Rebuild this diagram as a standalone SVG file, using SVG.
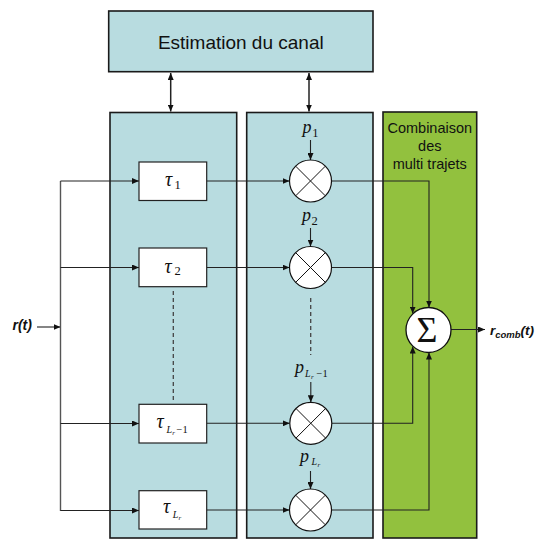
<svg xmlns="http://www.w3.org/2000/svg" width="537" height="539" viewBox="0 0 537 539">
<defs>
<marker id="ah" markerUnits="userSpaceOnUse" markerWidth="7" markerHeight="6" refX="7" refY="3" orient="auto-start-reverse">
<path d="M0,0 L7,3 L0,6 z" fill="#111"/>
</marker>
<g id="xmul">
<circle cx="0" cy="0" r="21" fill="#fff" stroke="#111" stroke-width="1.2"/>
<path d="M-14.8,-14.8 L14.8,14.8 M14.8,-14.8 L-14.8,14.8" stroke="#111" stroke-width="1"/>
</g>
</defs>
<style>
.panel{fill:#B8DCE0;stroke:#1a1a1a;stroke-width:1.6}
.green{fill:#92C13E;stroke:#1a1a1a;stroke-width:1.6}
.box{fill:#fff;stroke:#222;stroke-width:1.2}
.ln{fill:none;stroke:#222;stroke-width:1.1}
.ar{marker-end:url(#ah)}
.dash{fill:none;stroke:#444;stroke-width:1.3;stroke-dasharray:4,3}
.sans{font-family:"Liberation Sans",Arial,sans-serif;fill:#111}
.sym{font-family:"Liberation Serif","Times New Roman",serif;font-style:italic;fill:#111}
.up{font-style:normal}
</style>
<g id="estimation">
<rect x="108.7" y="11" width="264.3" height="60.7" class="panel"/>
<text x="240.8" y="49" class="sans" font-size="19" text-anchor="middle">Estimation du canal</text>
</g>
<g id="panel-delays"><rect x="110" y="112.5" width="126.7" height="425.5" class="panel"/></g>
<g id="panel-weights"><rect x="246.7" y="112.5" width="126.3" height="425.5" class="panel"/></g>
<g id="panel-combine">
<rect x="383" y="112" width="93.7" height="426" class="green"/>
<text class="sans" font-size="14.5" text-anchor="middle"><tspan x="429.8" y="133">Combinaison</tspan><tspan x="429.8" y="151">des</tspan><tspan x="429.8" y="168.5">multi trajets</tspan></text>
</g>
<g id="connectors">
<line x1="170.7" y1="73" x2="170.7" y2="111.5" class="ln" style="marker-start:url(#ah);marker-end:url(#ah);stroke-width:1.5"/>
<line x1="309" y1="73" x2="309" y2="111.5" class="ln" style="marker-start:url(#ah);marker-end:url(#ah);stroke-width:1.5"/>
<line x1="37" y1="327" x2="60.5" y2="327" class="ln ar"/>
<line x1="60.5" y1="181" x2="60.5" y2="511" class="ln" style="stroke:#555;stroke-width:1.4"/>
<line x1="60.5" y1="181" x2="139" y2="181" class="ln ar"/>
<line x1="60.5" y1="267.5" x2="139" y2="267.5" class="ln ar"/>
<line x1="60.5" y1="423.5" x2="139" y2="423.5" class="ln ar"/>
<line x1="60.5" y1="510.5" x2="139" y2="510.5" class="ln ar"/>
<line x1="206.7" y1="181" x2="289.5" y2="181" class="ln ar"/>
<line x1="206.7" y1="267.5" x2="289.5" y2="267.5" class="ln ar"/>
<line x1="206.7" y1="423.3" x2="289.8" y2="423.3" class="ln ar"/>
<line x1="206.7" y1="510" x2="289.5" y2="510" class="ln ar"/>
<line x1="310.5" y1="140" x2="310.5" y2="160" class="ln ar"/>
<line x1="310.5" y1="228" x2="310.5" y2="246.5" class="ln ar"/>
<line x1="310.8" y1="382" x2="310.8" y2="402.3" class="ln ar"/>
<line x1="310.5" y1="471" x2="310.5" y2="489" class="ln ar"/>
<path d="M331.5,181 H429 V307.5" class="ln ar"/>
<path d="M331.5,267.5 H412.7 V313.5" class="ln ar"/>
<path d="M331.8,423.3 H412.7 V346.5" class="ln ar"/>
<path d="M331.5,510 H429 V352.5" class="ln ar"/>
<line x1="451" y1="329.5" x2="485" y2="329.5" class="ln ar"/>
<line x1="173.3" y1="291" x2="173.3" y2="400" class="dash"/>
<line x1="310.7" y1="298" x2="310.7" y2="355" class="dash"/>
</g>
<g id="delay1">
<rect x="139" y="162" width="67.7" height="38.5" class="box"/>
<text class="sym" font-size="20" x="165" y="186">τ<tspan class="up" font-size="12.5" x="174.5" y="188.5">1</tspan></text>
</g>
<g id="delay2">
<rect x="139" y="248" width="67.7" height="38.7" class="box"/>
<text class="sym" font-size="20" x="164.5" y="272.5">τ<tspan class="up" font-size="12.5" x="174.5" y="275">2</tspan></text>
</g>
<g id="delay3">
<rect x="139" y="404.3" width="67.7" height="38.7" class="box"/>
<text class="sym" font-size="20" x="156.5" y="427.5">τ<tspan font-size="10" x="166.5" y="433">L</tspan><tspan font-size="7" x="172.3" y="435">r</tspan><tspan class="up" font-size="10.5" x="176.5" y="433">−1</tspan></text>
</g>
<g id="delay4">
<rect x="139" y="490.7" width="67.7" height="38.3" class="box"/>
<text class="sym" font-size="20" x="163" y="513">τ<tspan font-size="10" x="172.7" y="518">L</tspan><tspan font-size="7" x="178.5" y="520">r</tspan></text>
</g>
<g id="mult1">
<use href="#xmul" x="310.5" y="181"/>
<text class="sym" font-size="18" x="302.5" y="132.7">p<tspan class="up" font-size="12.5" x="312.3" y="136.5">1</tspan></text>
</g>
<g id="mult2">
<use href="#xmul" x="310.5" y="267.5"/>
<text class="sym" font-size="18" x="302" y="220.5">p<tspan class="up" font-size="12.5" x="311.5" y="224.5">2</tspan></text>
</g>
<g id="mult3">
<use href="#xmul" x="310.8" y="423.3"/>
<text class="sym" font-size="18" x="295" y="372.5">p<tspan font-size="10" x="305" y="376.7">L</tspan><tspan font-size="7" x="311" y="378.5">r</tspan><tspan class="up" font-size="10.5" x="316.5" y="376.5">−1</tspan></text>
</g>
<g id="mult4">
<use href="#xmul" x="310.5" y="510"/>
<text class="sym" font-size="18" x="300" y="462">p<tspan font-size="10" x="311.5" y="465">L</tspan><tspan font-size="7" x="317.5" y="467">r</tspan></text>
</g>
<g id="sum">
<circle cx="428.5" cy="330" r="22.5" fill="#fff" stroke="#111" stroke-width="1.3"/>
<text x="427" y="341.5" font-family="Liberation Serif,'Times New Roman',serif" font-size="36" text-anchor="middle" fill="#111">Σ</text>
</g>
<g id="labels">
<text x="12.5" y="330" class="sans" font-size="14" font-weight="bold" font-style="italic">r(t)</text>
<text x="490" y="335" class="sans" font-size="13.5" font-weight="bold" font-style="italic">r<tspan font-size="9.5" y="338">comb</tspan><tspan y="335">(t)</tspan></text>
</g>
</svg>
